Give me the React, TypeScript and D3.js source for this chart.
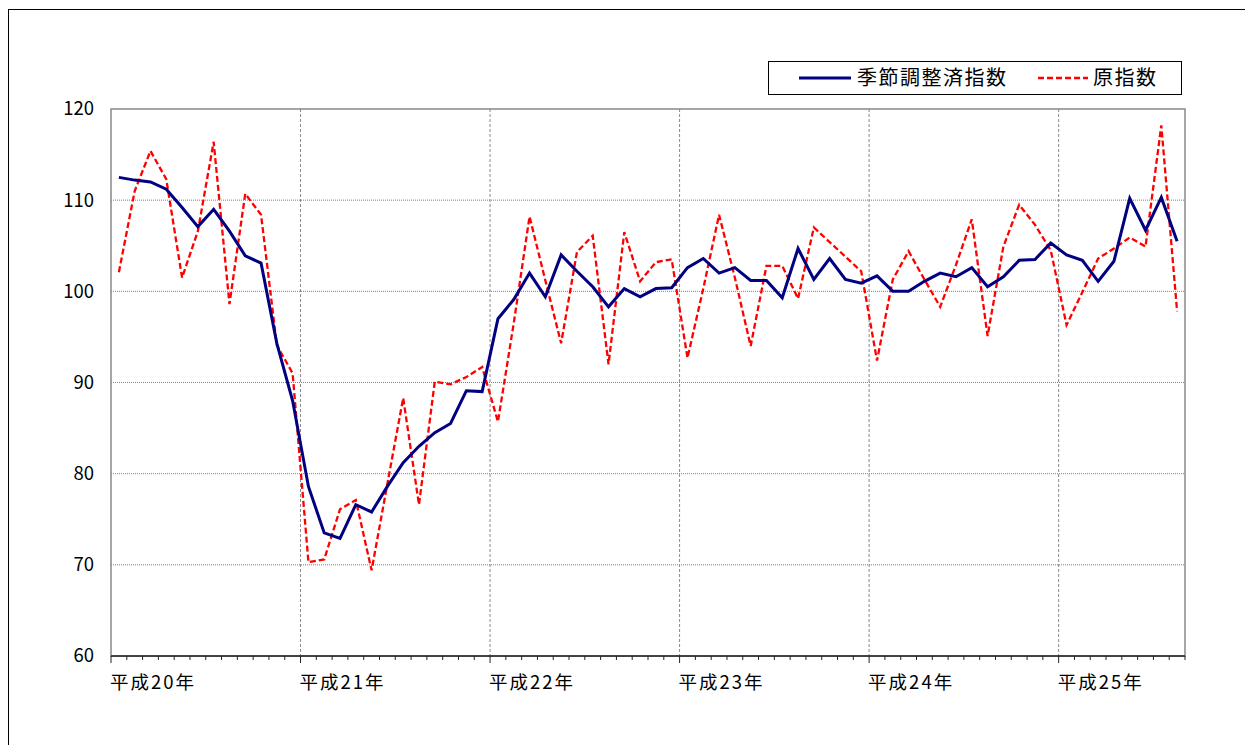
import React from "react";
import * as d3 from "d3";

const yearLabels = ["平成20年", "平成21年", "平成22年", "平成23年", "平成24年", "平成25年"];
const monthsPerYear = 12;
const monthCount = 68;
const months: string[] = d3.range(monthCount).map((i) => `${yearLabels[Math.floor(i / 12)]}${(i % 12) + 1}月`);

const seasonallyAdjusted = [
  112.5, 112.2, 112.0, 111.2, 109.2, 107.1, 109.0, 106.6, 103.9, 103.1, 94.3, 88.0,
  78.6, 73.5, 72.9, 76.6, 75.8, 78.6, 81.2, 83.0, 84.5, 85.5, 89.1, 89.0,
  97.0, 99.1, 102.0, 99.4, 104.0, 102.2, 100.5, 98.3, 100.3, 99.4, 100.3, 100.4,
  102.6, 103.6, 102.0, 102.6, 101.2, 101.2, 99.3, 104.7, 101.3, 103.6, 101.3, 100.9,
  101.7, 100.0, 100.0, 101.1, 102.0, 101.6, 102.6, 100.5, 101.6, 103.4, 103.5, 105.3,
  104.0, 103.4, 101.1, 103.3, 110.2, 106.7, 110.3, 105.5,
];

const originalIndex = [
  102.1, 111.0, 115.4, 112.3, 101.5, 106.6, 116.4, 98.6, 110.7, 108.4, 94.1, 91.0,
  70.3, 70.6, 76.1, 77.1, 69.4, 78.9, 88.3, 76.6, 90.1, 89.8, 90.6, 91.7,
  85.7, 96.5, 108.2, 101.2, 94.3, 104.3, 106.1, 92.0, 106.5, 101.1, 103.2, 103.5,
  92.7, 100.3, 108.4, 101.5, 94.0, 102.8, 102.8, 99.2, 107.0, 105.4, 103.8, 102.2,
  92.4, 101.3, 104.4, 101.3, 98.3, 102.9, 107.9, 95.1, 104.9, 109.5, 107.3, 104.5,
  96.3, 99.9, 103.6, 104.7, 105.9, 104.9, 118.2, 97.8,
];

const yTicks = [60, 70, 80, 90, 100, 110, 120];
const legendLabels = ["季節調整済指数", "原指数"];

const FONT = "'Noto Sans CJK JP', 'Noto Sans', sans-serif";

export default function App() {
  const left = 111, right = 1185, top = 109, bottom = 656;
  const x = d3.scaleBand<string>().domain(months).range([left, right]).paddingInner(0).paddingOuter(0);
  const bw = x.bandwidth();
  const y = d3.scaleLinear().domain([60, 120]).range([bottom, top]);
  const cx = (i: number) => (x(months[i]) as number) + bw / 2;

  const line = d3
    .line<number>()
    .x((_, i) => cx(i))
    .y((d) => y(d));

  const yearStarts = yearLabels.map((_, k) => x(months[k * monthsPerYear]) as number);

  return (
    <svg
      width={1245}
      height={745}
      style={{ position: "absolute", left: 0, top: 0, background: "#fff" }}
      fontFamily={FONT}
    >
      <rect x={0} y={0} width={1245} height={745} fill="#fff" />
      <rect x={8.5} y={9.5} width={1400} height={900} fill="none" stroke="#000" strokeWidth={1} />

      {/* horizontal grid */}
      {yTicks.slice(1, -1).map((t) => (
        <line key={`h${t}`} x1={left} x2={right} y1={y(t)} y2={y(t)} stroke="#808080" strokeWidth={1} strokeDasharray="1,1" />
      ))}
      {/* vertical grid at year boundaries */}
      {yearStarts.slice(1).map((xs, k) => (
        <line key={`v${k}`} x1={xs} x2={xs} y1={top} y2={bottom} stroke="#8a8a8a" strokeWidth={1} strokeDasharray="3,2" />
      ))}

      {/* plot border */}
      <rect x={left} y={top} width={right - left} height={bottom - top} fill="none" stroke="#888" strokeWidth={1.5} />
      <line x1={left} x2={right} y1={bottom} y2={bottom} stroke="#222" strokeWidth={1.5} />

      {/* x ticks */}
      {d3.range(monthCount + 1).map((i) => {
        const xx = i < monthCount ? (x(months[i]) as number) : right;
        const major = i % 12 === 0;
        return <line key={`t${i}`} x1={xx} x2={xx} y1={bottom} y2={bottom + (major ? 7 : 4)} stroke="#222" strokeWidth={1} />;
      })}

      {/* y labels */}
      {yTicks.map((t) => (
        <text key={`yl${t}`} x={94} y={y(t)} dy="0.35em" textAnchor="end" fontSize={18.5} fill="#000">
          {t}
        </text>
      ))}

      {/* x labels */}
      {yearLabels.map((lab, k) => (
        <text key={`xl${k}`} x={yearStarts[k] - 1} y={683} dy="0.35em" fontSize={18.5} letterSpacing={2} fill="#000">
          {lab}
        </text>
      ))}

      {/* series */}
      <path d={line(originalIndex) || ""} fill="none" stroke="#ff0000" strokeWidth={2.3} strokeDasharray="6,3" strokeLinejoin="miter" />
      <path d={line(seasonallyAdjusted) || ""} fill="none" stroke="#000080" strokeWidth={3} strokeLinejoin="miter" />

      {/* legend */}
      <rect x={768.5} y={61.5} width={413} height={33} fill="#fff" stroke="#000" strokeWidth={1} />
      <line x1={799} x2={851} y1={78} y2={78} stroke="#000080" strokeWidth={3} />
      <text x={857} y={78} dy="0.35em" fontSize={20} letterSpacing={1.5} fill="#000">
        {legendLabels[0]}
      </text>
      <line x1={1038} x2={1088} y1={78} y2={78} stroke="#ff0000" strokeWidth={2.3} strokeDasharray="6,3" />
      <text x={1093} y={78} dy="0.35em" fontSize={20} letterSpacing={1.5} fill="#000">
        {legendLabels[1]}
      </text>
    </svg>
  );
}
